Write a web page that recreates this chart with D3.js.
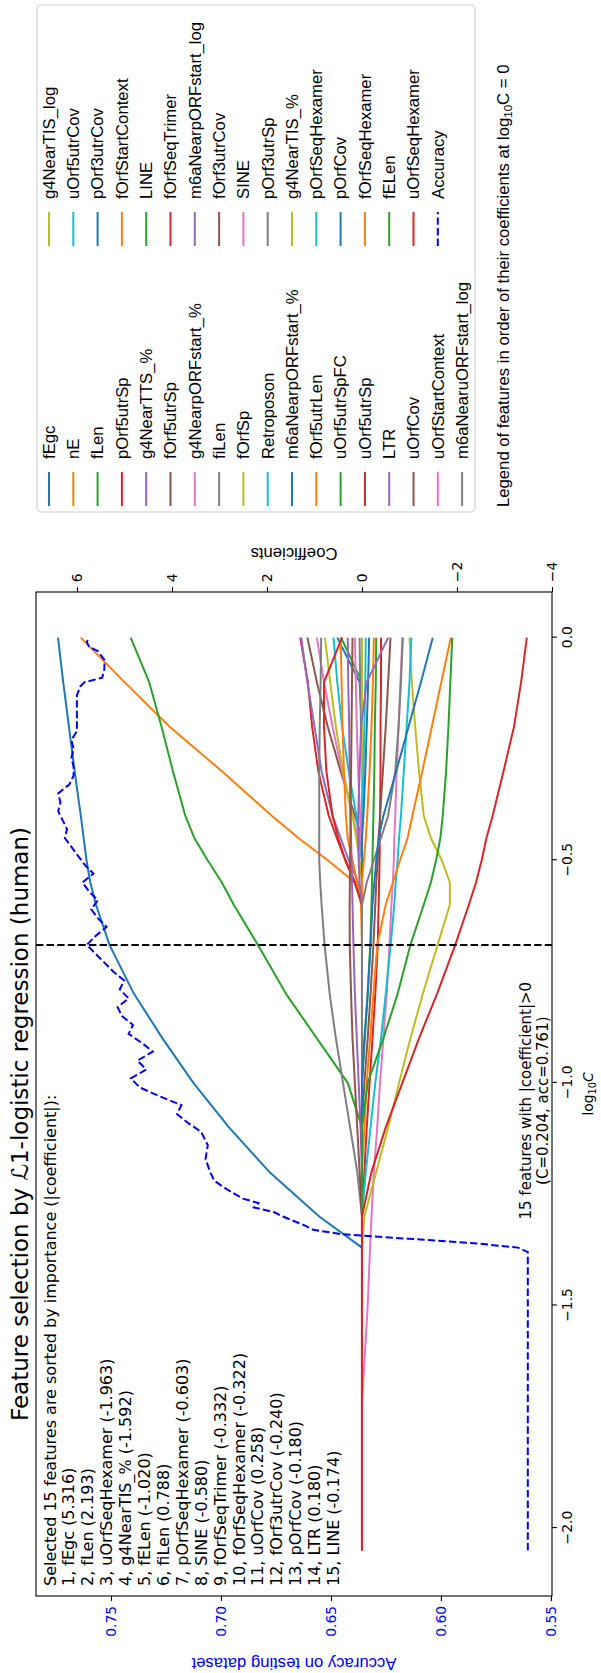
<!DOCTYPE html>
<html><head><meta charset="utf-8">
<script src="https://cdn.jsdelivr.net/npm/d3@7"></script>
<style>
html,body{margin:0;padding:0;background:#fff;}
svg{display:block;}
</style></head><body>
<script>
// ---------------- data ----------------
const featureNames = ["fEgc","nE","fLen","pOrf5utrSp","g4NearTTS_%","fOrf5utrSp","g4NearpORFstart_%","fiLen","fOrfSp","Retroposon",
  "m6aNearpORFstart_%","fOrf5utrLen","uOrf5utrSpFC","uOrf5utrSp","LTR","uOrfCov","uOrfStartContext","m6aNearuORFstart_log",
  "g4NearTIS_log","uOrf5utrCov","pOrf3utrCov","fOrfStartContext","LINE","fOrfSeqTrimer","m6aNearpORFstart_log","fOrf3utrCov",
  "SINE","pOrf3utrSp","g4NearTIS_%","pOrfSeqHexamer","pOrfCov","fOrfSeqHexamer","fELen","uOrfSeqHexamer"];
const palette = ["#1f77b4","#ff7f0e","#2ca02c","#d62728","#9467bd","#8c564b","#e377c2","#7f7f7f","#bcbd22","#17becf"];
const logC = [-2.05,-1.72,-1.5,-1.37,-1.3,-1.2,-1.1,-1.0,-0.9,-0.8,-0.69,-0.6,-0.55,-0.5,-0.45,-0.4,-0.3,-0.2,-0.1,0];
const coefPaths = [
 [0,0,0,0,0.9,1.95,2.8,3.55,4.2,4.8,5.316,5.6,5.72,5.8,5.86,5.92,6.05,6.17,6.29,6.40],
 [0,0,0,0,0,0,0,0,0,0,0,0,0.15,0.72,1.34,1.9,2.95,4.05,5.0,5.92],
 [0,0,0,0,0,0,0,0.3,0.95,1.6,2.193,2.7,2.95,3.25,3.53,3.72,3.98,4.22,4.48,4.87],
 [0,0,0,0,0,0,0,0,0,0,0,0,0.15,0.35,0.53,0.7,0.92,1.05,1.14,1.30],
 [0,0,0,0,0,0,0,0,0,0,0,0,0.08,0.28,0.45,0.62,0.85,1.0,1.15,1.28],
 [0,0,0,0,0,0,0,0,0,0,0,0,0,0,0,0.15,0.45,0.72,0.95,1.15],
 [0,0,0,0,0,0,0,0,0,0,0,0,0,0,0.08,0.2,0.42,0.62,0.8,0.95],
 [0,0,0,0,0,0.1,0.25,0.4,0.55,0.68,0.788,0.85,0.88,0.9,0.9,0.9,0.9,0.89,0.87,0.86],
 [0,0,0,0,0,0,0,0,0,0,0,0,0,0.05,0.12,0.2,0.4,0.55,0.67,0.78],
 [0,0,0,0,0,0,0,0,0,0,0,0,0,0,0.05,0.12,0.28,0.42,0.52,0.6],
 [0,0,0,0,0,0,0,0,0,0,0,0,0,0,0,0,0,0,0.05,0.52],
 [0,0,0,0,0,0,0,0,0,0,0,0.02,0.1,0.2,0.3,0.34,0.38,0.41,0.43,0.45],
 [0,0,0,0,0,0,0,0,0,0,0,0,0,0,0,0,0,0,0,0.44],
 [0,0,0,0,0,0,0,0,0,0,0,0,0.15,0.35,0.5,0.62,0.75,0.8,0.8,0.42],
 [0,0,0,0,0,0,0.03,0.07,0.11,0.15,0.18,0.2,0.21,0.22,0.23,0.24,0.26,0.27,0.29,0.3],
 [0,0,0,0,0,0.05,0.1,0.15,0.2,0.23,0.258,0.26,0.255,0.25,0.245,0.24,0.23,0.22,0.21,0.2],
 [0,0,0,0,0,0,0,0,0,0,0,0,0,0,0.02,0.04,0.08,0.11,0.13,0.15],
 [0,0,0,0,0,0,0,0,0,0,0,0,0,0,0,0,0,0.02,0.04,0.05],
 [0,0,0,0,0,0,0,0,0,0,0,0,0,0,0,0,0,0,0,0],
 [0,0,0,0,0,0,0,0,0,0,0,0,0,0,0,0,-0.03,-0.05,-0.07,-0.08],
 [0,0,0,0,0,0,0,0,0,0,0,0,0,0,0,-0.03,-0.07,-0.1,-0.13,-0.15],
 [0,0,0,0,0,0,0,0,0,0,0,0,0,-0.04,-0.08,-0.11,-0.16,-0.2,-0.23,-0.25],
 [0,0,0,0,0,0,0,0,-0.06,-0.12,-0.174,-0.2,-0.21,-0.22,-0.23,-0.24,-0.26,-0.27,-0.29,-0.3],
 [0,0,0,0,0,-0.05,-0.1,-0.16,-0.22,-0.28,-0.332,-0.35,-0.36,-0.37,-0.375,-0.38,-0.39,-0.39,-0.4,-0.4],
 [0,0,0,0,0,0,0,0,0,0,0,0,0.05,0.07,0.08,0.08,0.05,0.02,-0.1,-0.55],
 [0,0,0,0,0,0,0,-0.05,-0.12,-0.18,-0.24,-0.28,-0.3,-0.33,-0.35,-0.38,-0.44,-0.5,-0.55,-0.6],
 [0,0,-0.12,-0.17,-0.2,-0.25,-0.32,-0.38,-0.45,-0.52,-0.58,-0.62,-0.65,-0.67,-0.68,-0.7,-0.73,-0.77,-0.81,-0.85],
 [0,0,0,0,0,0,0,0,0,0,0,0,-0.1,-0.25,-0.4,-0.55,-0.7,-0.77,-0.82,-0.86],
 [0,0,0,0,-0.05,-0.3,-0.55,-0.78,-1.02,-1.28,-1.592,-1.85,-1.85,-1.68,-1.45,-1.3,-1.2,-1.12,-1.05,-1.0],
 [0,0,0,0,0,-0.08,-0.18,-0.28,-0.4,-0.5,-0.603,-0.68,-0.71,-0.75,-0.78,-0.82,-0.88,-0.94,-1.0,-1.04],
 [0,0,0,0,0,0,0,0,-0.05,-0.12,-0.18,-0.22,-0.26,-0.3,-0.35,-0.45,-0.72,-0.98,-1.24,-1.49],
 [0,0,0,0,0,0,-0.05,-0.1,-0.17,-0.24,-0.322,-0.5,-0.65,-0.8,-0.96,-1.06,-1.27,-1.47,-1.67,-1.87],
 [0,0,0,0,0,0,0,-0.12,-0.45,-0.75,-1.02,-1.3,-1.45,-1.56,-1.65,-1.7,-1.77,-1.82,-1.86,-1.90],
 [0,0,0,0,0,-0.2,-0.5,-0.85,-1.2,-1.58,-1.963,-2.25,-2.4,-2.52,-2.62,-2.75,-2.98,-3.2,-3.35,-3.47]
];
const accuracyCurve = [
 [-2.05,0.5605],[-1.38,0.5605],[-1.37,0.565],[-1.36,0.585],[-1.35,0.615],[-1.34,0.645],[-1.33,0.658],[-1.32,0.662],
 [-1.30,0.672],[-1.29,0.676],[-1.28,0.685],[-1.27,0.683],[-1.26,0.690],[-1.24,0.697],[-1.22,0.703],[-1.20,0.705],
 [-1.17,0.707],[-1.14,0.706],[-1.11,0.709],[-1.09,0.715],[-1.07,0.720],[-1.05,0.718],[-1.03,0.728],[-1.01,0.737],
 [-0.99,0.741],[-0.97,0.734],[-0.95,0.738],[-0.93,0.731],[-0.91,0.736],[-0.89,0.742],[-0.87,0.740],[-0.85,0.745],
 [-0.83,0.747],[-0.81,0.742],[-0.79,0.746],[-0.77,0.744],[-0.75,0.749],[-0.73,0.753],[-0.71,0.757],[-0.69,0.761],
 [-0.67,0.757],[-0.65,0.752],[-0.63,0.756],[-0.61,0.759],[-0.59,0.756],[-0.57,0.760],[-0.55,0.763],[-0.53,0.758],
 [-0.51,0.762],[-0.49,0.765],[-0.47,0.768],[-0.45,0.771],[-0.43,0.770],[-0.41,0.772],[-0.39,0.774],[-0.37,0.773],
 [-0.35,0.774],[-0.33,0.769],[-0.31,0.767],[-0.29,0.767],[-0.27,0.768],[-0.25,0.767],[-0.23,0.768],[-0.21,0.7655],
 [-0.17,0.7655],[-0.13,0.7655],[-0.11,0.764],[-0.10,0.762],[-0.09,0.754],[-0.07,0.753],[-0.05,0.753],[-0.03,0.756],
 [-0.02,0.760],[-0.01,0.761],[0,0.760]
];
const selectedNames = ["fEgc","fLen","uOrfSeqHexamer","g4NearTIS_%","fELen","fiLen","pOrfSeqHexamer","SINE","fOrfSeqTrimer",
  "fOrfSeqHexamer","uOrfCov","fOrf3utrCov","pOrfCov","LTR","LINE"];
const selectedCoefs = [5.316,2.193,-1.963,-1.592,-1.020,0.788,-0.603,-0.580,-0.332,-0.322,0.258,-0.240,-0.180,0.180,-0.174];
const accTicks = [0.55,0.60,0.65,0.70,0.75];
const coefTicks = [-4,-2,0,2,4,6];
const logCTicks = [-2.0,-1.5,-1.0,-0.5,0.0];
const bestC = 0.204, bestAcc = 0.761;

// ---------------- layout (unrotated figure 1673 x 601) ----------------
const FW = 1673, FH = 601;
const ax = {l:77, r:1081, t:36, b:552};
const DV = "'DejaVu Sans', sans-serif";
const AR = "'Liberation Sans', Arial, sans-serif";

const svg = d3.select("body").append("svg").attr("width", FH).attr("height", FW);
const g = svg.append("g").attr("transform", `translate(0,${FW}) rotate(-90)`);

const x = d3.scaleLinear().domain([-2.1525, 0.1025]).range([ax.l, ax.r]);
const yAcc = d3.scaleLinear().domain([0.5495, 0.7841]).range([ax.b, ax.t]);
const yCoef = d3.scaleLinear().domain([-4, 6.863]).range([ax.b, ax.t]);

g.append("clipPath").attr("id","clip").append("rect")
  .attr("x",ax.l).attr("y",ax.t).attr("width",ax.r-ax.l).attr("height",ax.b-ax.t);

// text block
const block = g.append("text").attr("font-family",DV).attr("font-size",16).attr("fill","#000");
const blockLines = [`Selected ${selectedNames.length} features are sorted by importance (|coefficient|):`]
  .concat(selectedNames.map((n,i)=>`${i+1}, ${n} (${selectedCoefs[i].toFixed(3)})`));
blockLines.forEach((s,i)=>{
  block.append("tspan").attr("x",ax.l+10).attr("y",ax.t+19.5+18.9*i).text(s);
});

// coefficient paths
const lines = g.append("g").attr("clip-path","url(#clip)");
const lineGen = d3.line().x(d=>x(d[0])).y(d=>yCoef(d[1]));
coefPaths.forEach((vals,i)=>{
  lines.append("path").datum(logC.map((t,j)=>[t,vals[j]]))
    .attr("d",lineGen).attr("fill","none").attr("stroke",palette[i%10])
    .attr("stroke-width",2).attr("stroke-linejoin","round");
});
// accuracy
lines.append("path").datum(accuracyCurve)
  .attr("d", d3.line().x(d=>x(d[0])).y(d=>yAcc(d[1])))
  .attr("fill","none").attr("stroke","#0000ff").attr("stroke-width",2).attr("stroke-dasharray","7.4,3.2");
// vertical line at selected C
const xBest = x(Math.log10(bestC));
lines.append("line").attr("x1",xBest).attr("x2",xBest).attr("y1",ax.t).attr("y2",ax.b)
  .attr("stroke","#000").attr("stroke-width",2).attr("stroke-dasharray","7.4,3.2");

// annotation
const ann = g.append("text").attr("font-family",DV).attr("font-size",15).attr("text-anchor","middle");
ann.append("tspan").attr("x",x(-1.04)).attr("y",ax.b-21).text(`${selectedNames.length} features with |coefficient|>0`);
ann.append("tspan").attr("x",x(-1.04)).attr("y",ax.b-4).text(`(C=${bestC.toFixed(3)}, acc=${bestAcc.toFixed(3)})`);

// frame
g.append("rect").attr("x",ax.l).attr("y",ax.t).attr("width",ax.r-ax.l).attr("height",ax.b-ax.t)
  .attr("fill","none").attr("stroke","#000").attr("stroke-width",1.1);

// axes
function styleAxis(sel, color){
  sel.select(".domain").remove();
  sel.selectAll(".tick line").attr("stroke","#000").attr("stroke-width",1.1);
  sel.selectAll(".tick text").attr("font-family",DV).attr("font-size",13.9).attr("fill",color);
}
g.append("g").attr("transform",`translate(0,${ax.b})`)
  .call(d3.axisBottom(x).tickValues(logCTicks).tickFormat(d3.format(".1f")).tickSize(4.9).tickPadding(4.9))
  .call(s=>styleAxis(s,"#000"));
g.append("g").attr("transform",`translate(${ax.l},0)`)
  .call(d3.axisLeft(yAcc).tickValues(accTicks).tickFormat(d3.format(".2f")).tickSize(4.9).tickPadding(4.9))
  .call(s=>styleAxis(s,"#0000ff"));
g.append("g").attr("transform",`translate(${ax.r},0)`)
  .call(d3.axisRight(yCoef).tickValues(coefTicks).tickFormat(d3.format("d")).tickSize(4.9).tickPadding(4.9))
  .call(s=>styleAxis(s,"#000"));

// labels
g.append("text").attr("x",(ax.l+ax.r)/2-30).attr("y",ax.t-8).attr("text-anchor","middle")
  .attr("font-family",DV).attr("font-size",23).text("Feature selection by ℒ1-logistic regression (human)");
const xl = g.append("text").attr("x",(ax.l+ax.r)/2).attr("y",593).attr("text-anchor","middle")
  .attr("font-family",DV).attr("font-size",13.9);
xl.append("tspan").text("log");
xl.append("tspan").attr("font-size",9.7).attr("dy",3).text("10");
xl.append("tspan").attr("dy",-3).attr("font-style","italic").text("C");
g.append("text").attr("transform",`translate(15,${(ax.t+ax.b)/2}) rotate(-90)`).attr("text-anchor","middle")
  .attr("font-family",AR).attr("font-size",16.7).attr("fill","#0000ff").text("Accuracy on testing dataset");
g.append("text").attr("transform",`translate(1125,${(ax.t+ax.b)/2}) rotate(-90)`).attr("text-anchor","middle")
  .attr("font-family",AR).attr("font-size",16.7).attr("fill","#000").text("Coefficients");

// legend
const leg = g.append("g");
leg.append("rect").attr("x",1161).attr("y",37).attr("width",507).attr("height",438).attr("rx",4)
  .attr("fill","#fff").attr("fill-opacity",0.8).attr("stroke","#d0d0d0").attr("stroke-width",1.1);
const legItems = featureNames.map((n,i)=>({name:n,color:palette[i%10],dash:null}))
  .concat([{name:"Accuracy",color:"#0000ff",dash:"7.4,3.2"}]);
const rows = 18, colX = [1167, 1427];
legItems.forEach((it,i)=>{
  const c = Math.floor(i/rows), r = i%rows;
  const yy = 49 + 24.3*r, xx = colX[c];
  leg.append("line").attr("x1",xx).attr("x2",xx+34).attr("y1",yy).attr("y2",yy)
    .attr("stroke",it.color).attr("stroke-width",2).attr("stroke-dasharray",it.dash);
  leg.append("text").attr("x",xx+47).attr("y",yy).attr("dy","0.35em")
    .attr("font-family",AR).attr("font-size",16.7).text(it.name);
});
const lt = g.append("text").attr("x",1166).attr("y",509).attr("font-family",AR).attr("font-size",16.7);
lt.append("tspan").text("Legend of features in order of their coefficients at log");
lt.append("tspan").attr("font-size",11.5).attr("dy",3).text("10");
lt.append("tspan").attr("dy",-3).text("C = 0");
</script>
</body></html>
